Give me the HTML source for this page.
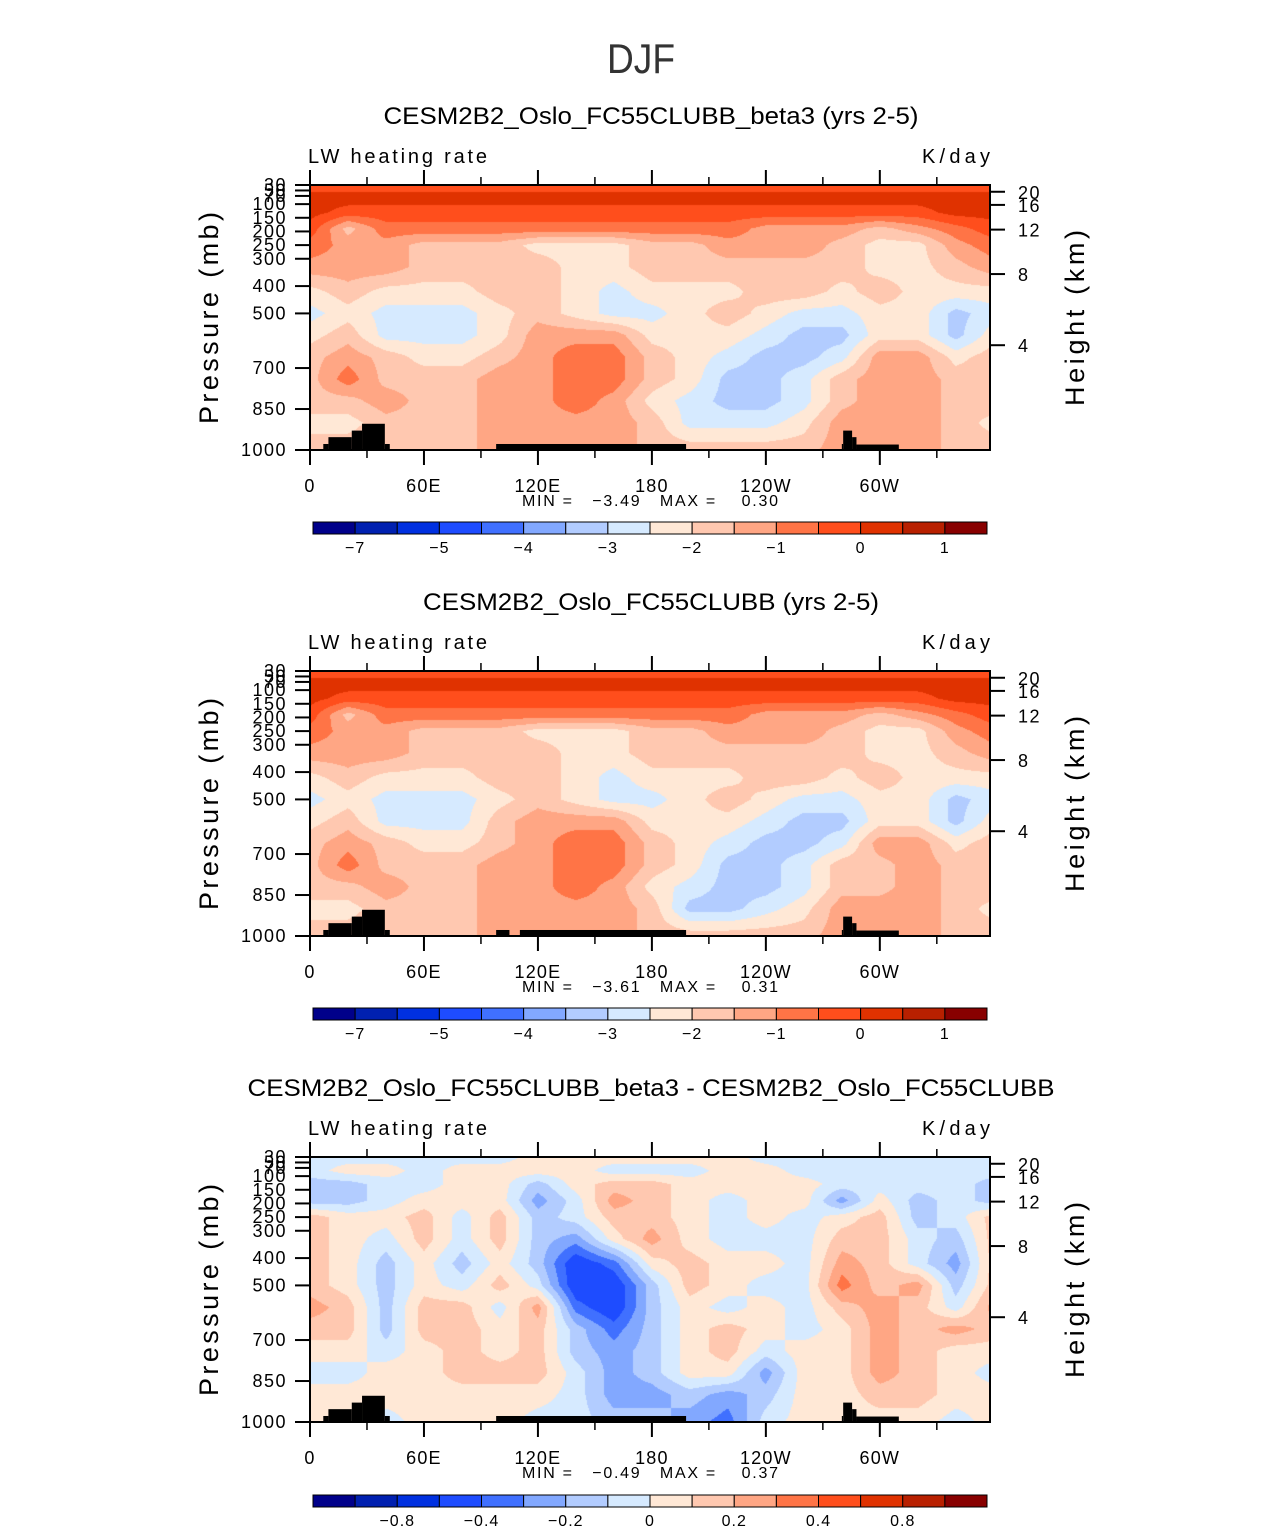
<!DOCTYPE html>
<html><head><meta charset="utf-8"><style>
body{margin:0;background:#fff;}
#wrap{position:relative;width:1285px;height:1531px;overflow:hidden;background:#fff;}
canvas{position:absolute;}
svg{position:absolute;left:0;top:0;}
text{font-family:"Liberation Sans",sans-serif;fill:#000;}
</style></head><body>
<div id="wrap">
<canvas id="c0" width="680" height="265" style="left:310px;top:185px"></canvas>
<canvas id="c1" width="680" height="265" style="left:310px;top:671px"></canvas>
<canvas id="c2" width="680" height="265" style="left:310px;top:1157px"></canvas>
<svg id="s" width="1285" height="1531">
<text x="641" y="73" font-size="42" text-anchor="middle" style="fill:#333" textLength="68" lengthAdjust="spacingAndGlyphs">DJF</text>
</svg>
</div>
<script>
const lons=[0,20,40,60,80,100,120,140,160,180,200,220,240,260,280,300,320,340];
const pres=[30,80,130,190,250,330,420,500,580,660,740,820,900,1000];
const lwBeta3=[
[-0.2,-0.2,-0.2,-0.2,-0.2,-0.2,-0.2,-0.2,-0.2,-0.2,-0.2,-0.2,-0.2,-0.2,-0.2,-0.2,-0.2,-0.2],
[0.2,0.2,0.2,0.2,0.2,0.2,0.2,0.2,0.2,0.2,0.2,0.2,0.2,0.2,0.2,0.2,0.2,0.2],
[0.2,-0.2,-0.2,-0.2,-0.2,-0.2,-0.2,-0.2,-0.2,-0.2,-0.2,-0.2,-0.2,-0.2,-0.2,-0.2,-0.2,0.2],
[-0.2,-1.7,-0.7,-0.7,-0.7,-0.7,-0.7,-0.7,-0.7,-0.7,-0.7,-0.7,-1.2,-1.2,-1.2,-1.7,-1.2,-0.7],
[-0.7,-1.2,-1.2,-1.7,-1.7,-1.7,-2.2,-2.2,-2.2,-1.7,-1.7,-1.2,-1.2,-1.2,-1.7,-2.2,-2.2,-1.2],
[-1.2,-1.2,-1.2,-1.7,-1.7,-1.7,-1.7,-2.2,-2.2,-1.7,-1.7,-1.7,-1.7,-1.7,-1.7,-2.2,-2.2,-1.7],
[-2.2,-1.7,-2.2,-2.2,-2.2,-1.7,-1.7,-2.2,-2.7,-2.2,-2.2,-2.2,-1.7,-1.7,-2.2,-1.7,-2.2,-2.2],
[-2.7,-2.2,-2.7,-2.7,-2.7,-2.2,-1.7,-2.2,-2.7,-2.7,-2.2,-1.7,-2.2,-2.7,-2.7,-2.2,-2.2,-3.2],
[-2.2,-1.7,-2.7,-2.7,-2.7,-2.2,-1.2,-1.2,-1.2,-2.2,-2.2,-2.2,-2.7,-3.2,-3.2,-2.2,-2.2,-3.2],
[-1.7,-1.2,-1.7,-2.2,-2.2,-1.7,-1.2,-0.7,-0.7,-1.7,-2.2,-2.7,-3.2,-3.2,-2.7,-1.2,-1.2,-2.2],
[-1.7,-0.7,-1.7,-1.7,-1.7,-1.2,-1.2,-0.7,-0.7,-1.7,-2.2,-3.2,-3.2,-2.7,-1.7,-1.2,-1.2,-1.7],
[-1.7,-1.7,-1.2,-1.7,-1.7,-1.2,-1.2,-0.7,-1.2,-2.2,-2.7,-3.2,-3.2,-2.7,-1.7,-1.2,-1.2,-1.7],
[-2.2,-2.2,-1.7,-1.7,-1.7,-1.2,-1.2,-1.2,-1.2,-1.7,-2.7,-2.7,-2.7,-2.2,-1.2,-1.2,-1.2,-1.7],
[-1.7,-1.7,-1.7,-1.7,-1.7,-1.2,-1.2,-1.2,-1.2,-1.7,-1.7,-1.7,-1.7,-1.7,-1.2,-1.2,-1.2,-1.7]];
const lwControl=[
[-0.2,-0.2,-0.2,-0.2,-0.2,-0.2,-0.2,-0.2,-0.2,-0.2,-0.2,-0.2,-0.2,-0.2,-0.2,-0.2,-0.2,-0.2],
[0.2,0.2,0.2,0.2,0.2,0.2,0.2,0.2,0.2,0.2,0.2,0.2,0.2,0.2,0.2,0.2,0.2,0.2],
[0.2,-0.2,-0.2,-0.2,-0.2,-0.2,-0.2,-0.2,-0.2,-0.2,-0.2,-0.2,-0.2,-0.2,-0.2,-0.2,-0.2,0.2],
[-0.2,-1.7,-0.7,-0.7,-0.7,-0.7,-0.7,-0.7,-0.7,-0.7,-0.7,-0.7,-1.2,-1.2,-1.2,-1.7,-1.2,-0.7],
[-0.7,-1.2,-1.2,-1.7,-1.7,-1.7,-2.2,-2.2,-2.2,-1.7,-1.7,-1.2,-1.2,-1.2,-1.7,-2.2,-2.2,-1.2],
[-1.2,-1.2,-1.2,-1.7,-1.7,-1.7,-1.7,-2.2,-2.2,-1.7,-1.7,-1.7,-1.7,-1.7,-1.7,-2.2,-2.2,-1.7],
[-2.2,-1.7,-2.2,-2.2,-2.2,-1.7,-1.7,-2.2,-2.7,-2.2,-2.2,-2.2,-1.7,-1.7,-2.2,-1.7,-2.2,-2.2],
[-2.7,-2.2,-2.7,-2.7,-2.7,-2.2,-1.7,-2.2,-2.7,-2.7,-2.2,-1.7,-2.2,-2.7,-2.7,-2.2,-2.2,-3.2],
[-2.2,-1.7,-2.7,-2.7,-2.7,-1.7,-1.2,-1.2,-1.2,-2.2,-2.2,-2.2,-2.7,-3.2,-3.2,-2.2,-2.2,-3.2],
[-1.7,-1.2,-1.7,-2.2,-2.2,-1.7,-1.2,-0.7,-0.7,-1.7,-2.2,-2.7,-3.2,-3.2,-2.7,-1.2,-1.2,-2.2],
[-1.7,-0.7,-1.7,-1.7,-1.7,-1.2,-1.2,-0.7,-0.7,-1.7,-2.2,-3.2,-3.2,-2.7,-1.7,-1.7,-1.2,-1.7],
[-1.7,-1.7,-1.2,-1.7,-1.7,-1.2,-1.2,-0.7,-1.2,-2.2,-2.7,-3.2,-3.2,-2.7,-1.7,-1.7,-1.2,-1.7],
[-2.2,-2.2,-1.7,-1.7,-1.7,-1.2,-1.2,-1.2,-1.2,-1.7,-3.2,-3.2,-2.7,-2.2,-1.2,-1.2,-1.2,-1.7],
[-1.7,-1.7,-1.7,-1.7,-1.7,-1.2,-1.2,-1.2,-1.2,-1.7,-1.7,-1.7,-1.7,-1.7,-1.2,-1.2,-1.2,-1.7]];
const lwDiff=[
[-0.05,-0.05,-0.05,-0.05,-0.05,-0.05,0.05,0.05,0.05,0.05,0.05,0.05,-0.05,-0.05,-0.05,-0.05,-0.05,-0.05],
[-0.05,0.05,0.05,-0.05,0.05,0.05,0.05,0.05,-0.05,-0.05,-0.05,0.05,0.05,-0.05,-0.05,-0.05,-0.05,-0.05],
[-0.15,-0.15,-0.05,-0.05,0.05,0.05,-0.15,0.05,0.15,0.15,0.05,0.05,0.05,0.05,-0.05,-0.05,-0.05,-0.05],
[-0.15,-0.15,-0.05,0.05,0.05,0.05,-0.25,-0.05,0.25,0.15,0.05,-0.05,0.05,0.05,-0.25,0.05,-0.15,-0.05],
[0.15,0.05,0.05,0.15,-0.05,0.15,-0.15,-0.05,0.15,0.15,0.05,-0.05,0.05,-0.05,0.05,0.15,-0.15,-0.05],
[0.15,0.05,-0.05,0.15,-0.05,0.15,-0.15,-0.25,0.05,0.25,0.05,-0.05,-0.05,-0.05,0.15,0.15,-0.05,-0.15],
[0.15,0.05,-0.15,0.05,-0.15,0.05,-0.15,-0.5,-0.35,0.05,0.15,0.05,0.05,-0.05,0.25,0.15,-0.05,-0.25],
[0.15,0.05,-0.15,0.05,-0.05,0.15,-0.05,-0.5,-0.5,-0.15,0.15,0.05,-0.05,-0.05,0.35,0.15,0.25,-0.15],
[0.25,0.15,-0.15,0.15,0.15,-0.05,0.25,-0.35,-0.5,-0.15,0.05,-0.05,0.05,-0.05,0.15,0.25,0.15,-0.05],
[0.15,0.15,-0.15,0.15,0.15,0.05,0.15,-0.15,-0.35,-0.15,0.05,0.15,0.05,-0.05,0.05,0.25,0.15,0.25],
[0.05,0.05,-0.05,0.05,0.15,0.05,0.15,-0.15,-0.25,-0.15,0.05,0.15,-0.05,0.05,0.05,0.25,0.15,0.05],
[-0.05,-0.05,0.05,0.05,0.15,0.15,0.15,-0.05,-0.25,-0.15,0.05,0.05,-0.25,0.05,0.05,0.25,0.15,0.05],
[0.05,0.05,0.05,0.05,0.05,0.05,0.05,-0.05,-0.25,-0.25,-0.15,-0.25,-0.15,0.05,0.05,0.15,0.15,0.05],
[0.05,0.05,-0.05,0.05,0.05,0.05,-0.05,-0.05,-0.15,-0.15,-0.25,-0.35,-0.05,0.05,0.05,0.05,0.05,-0.05]];
const levelsAbs=[-7,-6,-5,-4.5,-4,-3.5,-3,-2.5,-2,-1.5,-1,-0.5,0,0.5,1];
const levelsDiff=[-1,-0.8,-0.6,-0.4,-0.3,-0.2,-0.1,0,0.1,0.2,0.3,0.4,0.6,0.8,1];
const cbLabelsAbs=["−7","−5","−4","−3","−2","−1","0","1"];
const cbLabelIdxAbs=[1,3,5,7,9,11,13,15];
const cbLabelsDiff=["−0.8","−0.4","−0.2","0","0.2","0.4","0.8"];
const cbLabelIdxDiff=[2,4,6,8,10,12,14];
const palette=["#00008a","#0020b0","#0030e0","#1e4cff","#4070ff","#82a8ff","#b2ccff","#d6eaff","#ffe8d6","#ffc8b0","#ffa684","#ff7446","#ff4e1c","#e03200","#b82000","#880000"];
const topoStart=[7,9.7,22,27.4,39.4,98,280,280.7,285.4,287.7];
const topoEnd=[9.7,22,27.4,39.4,42,198,280.7,285.4,287.7,310];
const topoTop=[978,953,929,904,978,978,978,929,953,980];
const topoStart2=[7,9.7,22,27.4,39.4,98,110.5,280,280.7,285.4,287.7];
const topoEnd2=[9.7,22,27.4,39.4,42,105,198,280.7,285.4,287.7,310];
const topoTop2=[978,953,929,904,978,978,978,978,929,953,980];
const presTicks=[30,50,70,100,150,200,250,300,400,500,700,850,1000];
const heightTicks=[20,16,12,8,4];
const lonMajor=[0,60,120,180,240,300];
const lonMajorLabels=["0","60E","120E","180","120W","60W"];
const lonMinor=[30,90,150,210,270,330];
const titles=["CESM2B2_Oslo_FC55CLUBB_beta3 (yrs 2-5)","CESM2B2_Oslo_FC55CLUBB (yrs 2-5)","CESM2B2_Oslo_FC55CLUBB_beta3 - CESM2B2_Oslo_FC55CLUBB"];
const titleWidths=[535,456,807];
const minVals=["−3.49","−3.61","−0.49"];
const maxVals=["0.30","0.31","0.37"];

const BX=310,BW=680,BH=265,PTOP=30,PBOT=1000;
function xOf(lon){return BX+lon/358*BW;}
function yOf(p,top){return top+(p-PTOP)/(PBOT-PTOP)*BH;}
function hToP(h){h*=1000;return h<=11000?1013.25*Math.pow(1-2.25577e-5*h,5.2559):226.32*Math.exp(-(h-11000)/6341.6);}
function rgb(h){return [parseInt(h.substr(1,2),16),parseInt(h.substr(3,2),16),parseInt(h.substr(5,2),16)];}
const palRGB=palette.map(rgb);

function drawField(id,data,levels){
  const cv=document.getElementById(id),ctx=cv.getContext('2d');
  const img=ctx.createImageData(BW,BH);const n=lons.length;
  for(let py=0;py<BH;py++){
    const p=PTOP+(py+0.5)/BH*(PBOT-PTOP);
    let i=0;while(i<pres.length-2&&p>pres[i+1])i++;
    const t=Math.min(1,Math.max(0,(p-pres[i])/(pres[i+1]-pres[i])));
    for(let px=0;px<BW;px++){
      const lon=(px+0.5)/BW*358;
      const j=Math.floor(lon/20)%n,j1=(j+1)%n,s=(lon-lons[j])/20;
      const v=(1-t)*((1-s)*data[i][j]+s*data[i][j1])+t*((1-s)*data[i+1][j]+s*data[i+1][j1]);
      let c=0;while(c<levels.length&&v>levels[c])c++;
      const col=palRGB[c],k=(py*BW+px)*4;
      img.data[k]=col[0];img.data[k+1]=col[1];img.data[k+2]=col[2];img.data[k+3]=255;
    }
  }
  ctx.putImageData(img,0,0);
}
drawField('c0',lwBeta3,levelsAbs);
drawField('c1',lwControl,levelsAbs);
drawField('c2',lwDiff,levelsDiff);

const svg=document.getElementById('s');const NS='http://www.w3.org/2000/svg';
function mk(tag,attrs,parent){const e=document.createElementNS(NS,tag);for(const k in attrs)e.setAttribute(k,attrs[k]);(parent||svg).appendChild(e);return e;}
function txt(x,y,s,size,anchor,parent,extra){const e=mk('text',Object.assign({x:x,y:y,'font-size':size,'text-anchor':anchor||'start'},extra||{}),parent);e.textContent=s;return e;}

function panel(k,off,tS,tE,tT,levels,lblTxt,lblIdx){
  const top=185+off;
  const g=mk('g',{});
  
  
  const t=txt(651,124+off,titles[k],24,'middle',g,{textLength:titleWidths[k],lengthAdjust:'spacingAndGlyphs'});
  
  
  const l=txt(308,163+off,'LW heating rate',20,'start',g,{textLength:179});
  
  
  const u=txt(922,163+off,'K/day',20,'start',g,{textLength:68});
  
  
  for(let i=0;i<tS.length;i++){
    const r=mk('rect',{x:xOf(tS[i]),y:yOf(tT[i],top),width:xOf(tE[i])-xOf(tS[i]),height:top+BH-yOf(tT[i],top),fill:'#000'},g);
    
    
  }
  const f=mk('rect',{x:BX,y:top,width:BW,height:BH,fill:'none',stroke:'#000','stroke-width':2},g);
  
  
  presTicks.forEach(p=>{const y=yOf(p,top);mk('line',{x1:295,x2:BX,y1:y,y2:y,stroke:'#000','stroke-width':2},g);
    const e=txt(287,y+6,String(p),18,'end',g,{'letter-spacing':1.5});
    
    });
  heightTicks.forEach(h=>{const y=yOf(hToP(h),top);mk('line',{x1:BX+BW,x2:BX+BW+15,y1:y,y2:y,stroke:'#000','stroke-width':2},g);
    const e=txt(1018,y+7,String(h),18,'start',g,{'letter-spacing':1.5});
    
    });
  lonMajor.forEach((lon,i)=>{const x=xOf(lon);
    mk('line',{x1:x,x2:x,y1:top-15,y2:top,stroke:'#000','stroke-width':2},g);
    mk('line',{x1:x,x2:x,y1:top+BH,y2:top+BH+15,stroke:'#000','stroke-width':2},g);
    const e=txt(x,top+BH+42,lonMajorLabels[i],18,'middle',g,{'letter-spacing':1.2});
    
    });
  lonMinor.forEach(lon=>{const x=xOf(lon);
    mk('line',{x1:x,x2:x,y1:top-8,y2:top,stroke:'#000','stroke-width':1.5},g);
    mk('line',{x1:x,x2:x,y1:top+BH,y2:top+BH+8,stroke:'#000','stroke-width':1.5},g);});
  const yl=txt(0,0,'Pressure (mb)',27,'middle',g,{transform:'translate(218,'+(318+off)+') rotate(-90)',textLength:212});
  
  
  const yr=txt(0,0,'Height (km)',27,'middle',g,{transform:'translate(1084,'+(318+off)+') rotate(-90)',textLength:176});
  
  
  const mm=txt(522,506+off,'MIN =   '+minVals[k]+'   MAX =    '+maxVals[k],16,'start',g,{textLength:256,style:'white-space:pre'});
  
  
  const cbTop=522+off+(k==2?1:0),cbX=313,cbW=674,bw=cbW/palette.length;
  palette.forEach((c,i)=>{const r=mk('rect',{x:cbX+i*bw,y:cbTop,width:bw,height:12,fill:c,stroke:'#000','stroke-width':1},g);
    
    });
  lblTxt.forEach((s,i)=>{const e=txt(cbX+lblIdx[i]*bw,cbTop+31,s,16,'middle',g,{'letter-spacing':1});
    
    });
}
panel(0,0,topoStart,topoEnd,topoTop,levelsAbs,cbLabelsAbs,cbLabelIdxAbs);
panel(1,486,topoStart2,topoEnd2,topoTop2,levelsAbs,cbLabelsAbs,cbLabelIdxAbs);
panel(2,972,topoStart,topoEnd,topoTop,levelsDiff,cbLabelsDiff,cbLabelIdxDiff);
</script>
</body></html>
